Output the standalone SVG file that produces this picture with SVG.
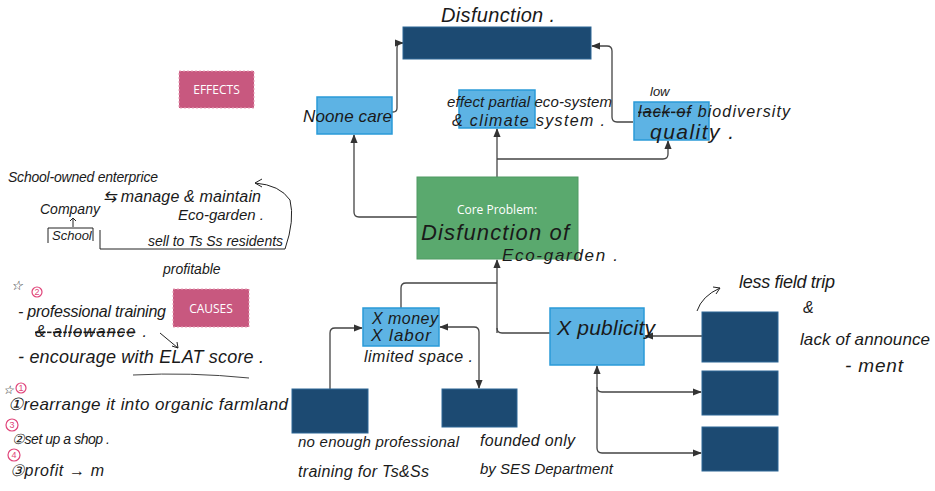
<svg xmlns="http://www.w3.org/2000/svg" width="935" height="491" viewBox="0 0 935 491">
<style>
.dark{fill:#1c4a72;stroke:#2c6796;stroke-width:1}
.light{fill:#5db3e4;stroke:#2a9ad8;stroke-width:1.5}
.core{fill:#5aa96e;stroke:#4f9a63;stroke-width:1}
.tag{fill:#c8587f;stroke:#e8a0b8;stroke-width:1;stroke-dasharray:2 2}
.tagt{font-family:"Open Sans","Liberation Sans",sans-serif;font-size:12px;fill:#fff;text-anchor:middle}
.hw{font-family:"Liberation Sans",sans-serif;font-style:italic;fill:#1a1a1a}
.conn path{fill:none;stroke:#444;stroke-width:1.3}
.ink{fill:none;stroke:#222;stroke-width:1}
.pink{fill:none;stroke:#e0457a;stroke-width:1.2}
.pinkt{font-family:"Liberation Sans",sans-serif;font-size:9px;fill:#e0457a;text-anchor:middle}
</style>
<defs>
<marker id="ah" viewBox="0 0 10 10" refX="9" refY="5" markerWidth="7" markerHeight="7" orient="auto-start-reverse">
<path d="M0,1 L10,5 L0,9 z" fill="#333"/>
</marker>
</defs>
<rect width="935" height="491" fill="#fff"/>

<g class="conn">
<path d="M392,112 H393 Q397,112 397,108 V48 Q397,43 401,43 H403" marker-end="url(#ah)"/>
<path d="M633,122 H617 Q612,122 612,117 V51 Q612,46 607,46 H592" marker-end="url(#ah)"/>
<path d="M497,177 V129" marker-end="url(#ah)"/>
<path d="M497,159 H663 Q668,159 668,154 V141" marker-end="url(#ah)"/>
<path d="M417,217 H359 Q354,217 354,212 V135" marker-end="url(#ah)"/>
<path d="M497,333 V260" marker-end="url(#ah)"/>
<path d="M497,328 Q497,333 502,333 H550"/>
<path d="M401,308 V288 Q401,283 406,283 H497"/>
<path d="M330,389 V333 Q330,328 335,328 H362" marker-end="url(#ah)"/>
<path d="M440,327 H474 Q479,327 479,332 V388" marker-start="url(#ah)" marker-end="url(#ah)"/>
<path d="M702,336 H645" marker-end="url(#ah)"/>
<path d="M597,366 V448 Q597,453 602,453 H701" marker-start="url(#ah)" marker-end="url(#ah)"/>
<path d="M597,387 Q597,392 602,392 H701" marker-end="url(#ah)"/>
</g>

<g id="top-box"><rect class="dark" x="403" y="27" width="188" height="32"/></g>
<g id="noone-care"><rect class="light" x="317" y="97" width="75" height="37"/></g>
<g id="effect-partial"><rect class="light" x="459" y="90" width="76" height="38"/></g>
<g id="biodiversity"><rect class="light" x="634" y="102" width="75" height="38"/></g>
<g id="core"><rect class="core" x="417" y="177" width="161" height="82"/>
<text class="tagt" x="497" y="214">Core Problem:</text></g>
<g id="effects-tag"><rect class="tag" x="179" y="71" width="75" height="37"/><text class="tagt" x="216.5" y="94">EFFECTS</text></g>
<g id="causes-tag"><rect class="tag" x="173" y="289" width="76" height="38"/><text class="tagt" x="211" y="313">CAUSES</text></g>
<g id="money-labor"><rect class="light" x="363" y="308" width="76" height="38"/></g>
<g id="publicity"><rect class="light" x="550" y="308" width="94" height="57"/></g>
<g id="cause-a"><rect class="dark" x="292" y="389" width="76" height="44"/></g>
<g id="cause-b"><rect class="dark" x="442" y="389" width="75" height="38"/></g>
<g id="pub-1"><rect class="dark" x="702" y="312" width="76" height="50"/></g>
<g id="pub-2"><rect class="dark" x="702" y="371" width="76" height="44"/></g>
<g id="pub-3"><rect class="dark" x="702" y="427" width="76" height="44"/></g>

<g id="notes">
<text class="hw" x="441" y="22" font-size="20" textLength="114">Disfunction .</text>
<text class="hw" x="303" y="122" font-size="17" textLength="89">Noone care</text>
<text class="hw" x="447" y="107" font-size="15" textLength="165">effect partial eco-system</text>
<text class="hw" x="452" y="126" font-size="16" textLength="153">&amp; climate system .</text>
<text class="hw" x="650" y="96" font-size="13">low</text>
<text class="hw" x="638" y="117" font-size="16" textLength="152"><tspan text-decoration="line-through">lack of</tspan> biodiversity</text>
<text class="hw" x="650" y="139" font-size="21" textLength="84">quality .</text>
<text class="hw" x="421" y="240" font-size="22" textLength="148">Disfunction of</text>
<text class="hw" x="502" y="261" font-size="17" textLength="116">Eco-garden .</text>

<text class="hw" x="8" y="182" font-size="14" textLength="150">School-owned enterprice</text>
<text class="hw" x="40" y="214" font-size="14">Company</text>
<text class="hw" x="103" y="202" font-size="16" textLength="158">⇆ manage &amp; maintain</text>
<text class="hw" x="178" y="220" font-size="15" textLength="86">Eco-garden .</text>
<path class="ink" d="M73,227 V218 M70,221 L73,218 L76,221"/>
<path class="ink" d="M48,228 V243 M48,228 H93 V241"/>
<text class="hw" x="52" y="240" font-size="13">School</text>
<path class="ink" d="M100,230 V249 H285 Q295,220 290,200 Q280,185 255,183"/>
<path class="ink" d="M262,179 L255,183 L262,187"/>
<text class="hw" x="148" y="246" font-size="14" textLength="135">sell to Ts Ss residents</text>
<text class="hw" x="163" y="274" font-size="14">profitable</text>

<text class="hw" x="11" y="290" font-size="13">☆</text>
<circle class="pink" cx="37" cy="292" r="5"/><text class="pinkt" x="37" y="295">2</text>
<text class="hw" x="18" y="317" font-size="16" textLength="148">- professional training</text>
<text class="hw" x="35" y="337" font-size="16" textLength="112"><tspan text-decoration="line-through">&amp; allowance</tspan> .</text>
<path class="ink" d="M160,333 L178,348 M172,346 L178,348 L177,342"/>
<text class="hw" x="18" y="363" font-size="18" textLength="246">- encourage with ELAT score .</text>
<path d="M133,375 Q190,372 249,378" fill="none" stroke="#444" stroke-width="1"/>

<text class="hw" x="3" y="394" font-size="12">☆</text>
<circle class="pink" cx="21" cy="388" r="5"/><text class="pinkt" x="21" y="391">1</text>
<text class="hw" x="8" y="410" font-size="17" textLength="280">①rearrange it into organic farmland</text>
<circle class="pink" cx="12" cy="425" r="6"/><text class="pinkt" x="12" y="428">3</text>
<text class="hw" x="12" y="444" font-size="14" textLength="98">②set up a shop .</text>
<circle class="pink" cx="14" cy="455" r="6"/><text class="pinkt" x="14" y="458">4</text>
<text class="hw" x="10" y="476" font-size="16" textLength="94">③profit → m</text>

<text class="hw" x="372" y="324" font-size="16" textLength="66">X money</text>
<text class="hw" x="371" y="341" font-size="17" textLength="60">X labor</text>
<text class="hw" x="364" y="362" font-size="16" textLength="109">limited space .</text>
<text class="hw" x="557" y="335" font-size="21" textLength="98">X publicity</text>
<text class="hw" x="298" y="447" font-size="15" textLength="161">no enough professional</text>
<text class="hw" x="298" y="477" font-size="16" textLength="131">training for Ts&amp;Ss</text>
<text class="hw" x="480" y="446" font-size="16" textLength="95">founded only</text>
<text class="hw" x="480" y="474" font-size="15" textLength="133">by SES Department</text>

<path class="ink" d="M697,311 Q702,296 720,288"/>
<path class="ink" d="M713,287 L720,288 L716,294"/>
<text class="hw" x="739" y="288" font-size="18" textLength="96">less field trip</text>
<text class="hw" x="803" y="313" font-size="16">&amp;</text>
<text class="hw" x="800" y="345" font-size="17" textLength="130">lack of announce</text>
<text class="hw" x="845" y="372" font-size="19" textLength="58">- ment</text>
</g>
</svg>
